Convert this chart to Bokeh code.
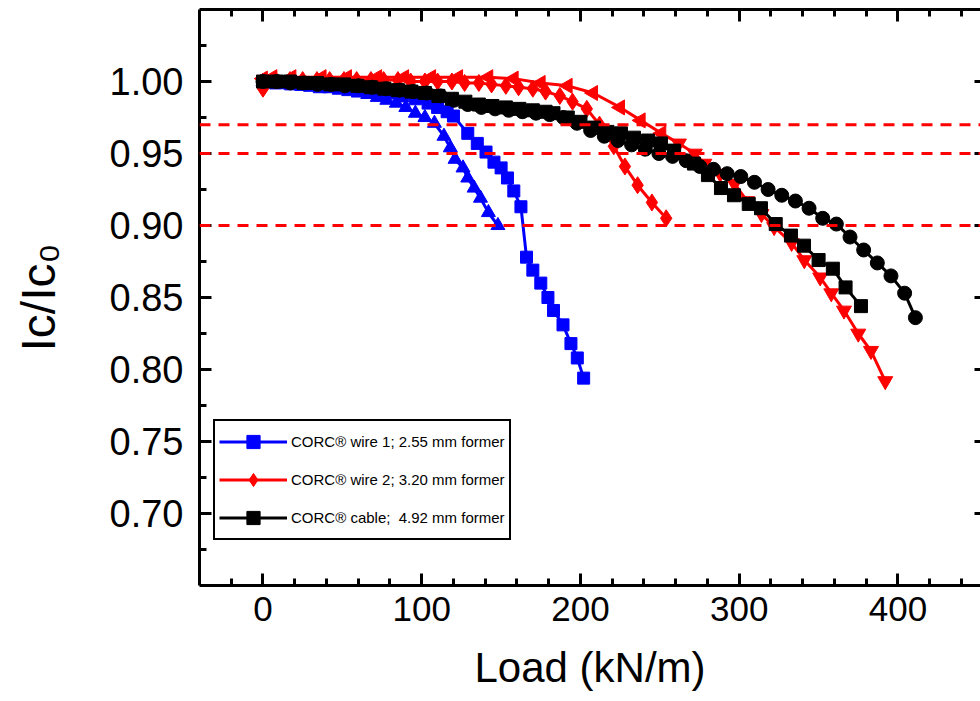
import math
from bokeh.plotting import figure
from bokeh.models import (Range1d, LinearAxis, FixedTicker, PrintfTickFormatter,
                          Legend, LegendItem, Span)
from bokeh.embed import file_html
from bokeh.resources import INLINE

# ---------------- data ----------------
blue_sq_x = [0, 8, 16, 24, 32, 40, 48, 56, 64, 72, 80, 88, 96, 104, 110, 116, 120,
             129, 135, 140.5, 145.5, 150, 154, 158, 162.5, 166, 170, 175, 179.5, 183,
             189, 194, 198, 202]
blue_sq_y = [1.000, 0.999, 0.999, 0.998, 0.998, 0.997, 0.997, 0.996, 0.995, 0.993,
             0.992, 0.990, 0.988, 0.985, 0.982, 0.979, 0.976, 0.964, 0.957, 0.951,
             0.944, 0.940, 0.933, 0.924, 0.913, 0.878, 0.869, 0.860, 0.850, 0.841,
             0.831, 0.818, 0.808, 0.794]

blue_tri_x = [0, 6, 12, 18, 24, 30, 36, 42, 48, 54, 60, 66, 72, 78, 84, 90, 96, 102,
              108, 114, 118, 121, 126, 129, 133, 137, 142, 148]
blue_tri_y = [1.000, 0.999, 0.998, 0.997, 0.997, 0.996, 0.995, 0.995, 0.994, 0.993,
              0.992, 0.991, 0.989, 0.987, 0.985, 0.982, 0.978, 0.975, 0.971, 0.962,
              0.954, 0.946, 0.940, 0.933, 0.926, 0.919, 0.909, 0.900]

red_dia_x = [0, 8, 17, 25, 34, 42, 51, 59, 68, 76, 85, 93, 102, 110, 119, 127, 136,
             144, 153, 161, 170, 178, 187, 195, 204, 212, 221, 228, 236, 245, 254]
red_dia_y = [0.995, 1.001, 1.001, 1.001, 1.001, 1.001, 1.001, 1.001, 1.001, 1.001,
             1.001, 1.000, 1.000, 1.000, 1.000, 0.999, 0.999, 0.998, 0.997, 0.996,
             0.995, 0.993, 0.990, 0.986, 0.981, 0.970, 0.955, 0.941, 0.928, 0.916,
             0.905]

red_tri_x = [0, 6, 18, 37, 53, 72, 89, 106, 123, 142, 158, 175, 192, 208, 225, 238,
             251, 262, 272, 278, 288, 297, 305, 314, 322, 333, 341, 351, 358, 366,
             375, 383, 392]
red_tri_y = [1.002, 1.003, 1.003, 1.003, 1.003, 1.003, 1.003, 1.003, 1.003, 1.003,
             1.002, 0.999, 0.997, 0.992, 0.982, 0.973, 0.964, 0.957, 0.950, 0.943,
             0.936, 0.929, 0.917, 0.908, 0.899, 0.888, 0.876, 0.864, 0.853, 0.841,
             0.825, 0.813, 0.792]

black_ci_x = [0, 8.6, 17.2, 25.8, 34.4, 43, 51.6, 60.2, 68.8, 77.4, 86, 94.6, 103.2,
              111.8, 120.4, 129, 137.6, 146.2, 154.8, 163.4, 172, 180.6, 189.2, 197.8,
              206.4, 215, 223.6, 232.2, 240.8, 249.4, 258, 266.6, 275.2, 283.8, 292.4,
              301, 309.6, 318.2, 326.8, 335.4, 344, 352.6, 361.2, 369.8, 378.4, 387,
              395.6, 404.2, 411]
black_ci_y = [1.000, 1.000, 0.999, 0.999, 0.998, 0.998, 0.997, 0.997, 0.996, 0.995,
              0.994, 0.993, 0.992, 0.990, 0.987, 0.984, 0.982, 0.981, 0.980, 0.979,
              0.978, 0.977, 0.975, 0.971, 0.966, 0.962, 0.959, 0.956, 0.953, 0.950,
              0.948, 0.945, 0.941, 0.939, 0.936, 0.934, 0.930, 0.925, 0.921, 0.917,
              0.912, 0.905, 0.901, 0.892, 0.883, 0.874, 0.865, 0.853, 0.836]

black_sq_x = [0, 8.5, 17, 25.5, 34, 42.5, 51, 59.5, 68, 76.5, 85, 93.5, 102, 110.5,
              119, 127.5, 136, 144.5, 153, 161.5, 170, 178, 183, 192, 200, 208.5, 217,
              225.5, 233.7, 242.5, 250.7, 259, 271.5, 280.3, 288.5, 296.7, 306, 313.7,
              323, 332.6, 340.8, 350, 359, 367, 376.7]
black_sq_y = [1.000, 1.000, 1.000, 0.999, 0.999, 0.998, 0.998, 0.997, 0.996, 0.995,
              0.994, 0.993, 0.992, 0.990, 0.988, 0.986, 0.984, 0.983, 0.982, 0.981,
              0.980, 0.979, 0.978, 0.975, 0.972, 0.968, 0.965, 0.964, 0.961, 0.959,
              0.957, 0.952, 0.943, 0.935, 0.926, 0.921, 0.915, 0.912, 0.901, 0.893,
              0.886, 0.876, 0.870, 0.857, 0.844]

criteria_levels = [0.97, 0.95, 0.90]

x_major = [0, 100, 200, 300, 400]
x_minor = [-20, 20, 40, 60, 80, 120, 140, 160, 180, 220, 240, 260, 280, 320, 340,
           360, 380, 420, 440]
y_major = [0.70, 0.75, 0.80, 0.85, 0.90, 0.95, 1.00]
y_minor = [0.675, 0.725, 0.775, 0.825, 0.875, 0.925, 0.975, 1.025]

legend_labels = ["CORC\u00ae wire 1; 2.55 mm former",
                 "CORC\u00ae wire 2; 3.20 mm former",
                 "CORC\u00ae cable;  4.92 mm former"]
x_title = "Load (kN/m)"
y_title = "Ic/Ic\u2080"

BLUE = "#0000ff"
RED = "#ff0000"
BLACK = "#000000"
FONT = "'Liberation Sans', Arial, sans-serif"

# ---------------- figure ----------------
p = figure(width=980, height=700, output_backend="svg", toolbar_location=None,
           x_range=Range1d(-40, 452), y_range=Range1d(0.65, 1.05),
           min_border_left=199, min_border_right=0, min_border_top=9,
           min_border_bottom=115)
p.grid.visible = False
p.outline_line_color = None
p.background_fill_color = "white"
p.border_fill_color = "white"

bottom_ax = p.below[0]
left_ax = p.left[0]
bottom_ax.ticker = FixedTicker(ticks=x_major, minor_ticks=x_minor)
left_ax.ticker = FixedTicker(ticks=y_major, minor_ticks=y_minor)
left_ax.formatter = PrintfTickFormatter(format="%.2f")

# top frame line with inward ticks (tick marks only)
top_minor_ax = LinearAxis(ticker=FixedTicker(ticks=[], minor_ticks=x_minor))
top_major_ax = LinearAxis(ticker=FixedTicker(ticks=[], minor_ticks=x_major))
right_ax = LinearAxis(ticker=FixedTicker(ticks=[], minor_ticks=y_major))
p.add_layout(top_minor_ax, "above")
p.add_layout(top_major_ax, "above")
p.add_layout(right_ax, "right")

for ax in [bottom_ax, left_ax, top_minor_ax, top_major_ax, right_ax]:
    ax.axis_line_width = 3
    ax.axis_line_color = BLACK
    ax.major_tick_line_width = 3
    ax.minor_tick_line_width = 3
    ax.major_tick_in = 12
    ax.major_tick_out = 0
    ax.minor_tick_in = 7
    ax.minor_tick_out = 0

top_major_ax.minor_tick_in = 12
top_major_ax.axis_line_color = None
right_ax.axis_line_color = None
right_ax.minor_tick_in = 6
for ax in [top_minor_ax, top_major_ax, right_ax]:
    ax.major_label_standoff = 0

bottom_ax.major_label_text_font = FONT
bottom_ax.major_label_text_font_size = "35px"
bottom_ax.major_label_text_color = BLACK
bottom_ax.major_label_standoff = 11
bottom_ax.axis_label = x_title
bottom_ax.axis_label_text_font = FONT
bottom_ax.axis_label_text_font_size = "42px"
bottom_ax.axis_label_text_font_style = "normal"
bottom_ax.axis_label_text_color = BLACK
bottom_ax.axis_label_standoff = 20

left_ax.major_label_text_font = FONT
left_ax.major_label_text_font_size = "38px"
left_ax.major_label_text_color = BLACK
left_ax.major_label_standoff = 16
left_ax.axis_label = y_title
left_ax.axis_label_text_font = FONT
left_ax.axis_label_text_font_size = "48px"
left_ax.axis_label_text_font_style = "normal"
left_ax.axis_label_text_color = BLACK
left_ax.axis_label_standoff = 42

for lvl in criteria_levels:
    p.add_layout(Span(location=lvl, dimension="width", line_color=RED,
                      line_width=3, line_dash="11 8"))

# ---------------- series ----------------
p.line(blue_tri_x, blue_tri_y, line_color=BLUE, line_width=3)
p.scatter(blue_tri_x, blue_tri_y, marker="triangle", size=14, color=BLUE)

l1 = p.line(blue_sq_x, blue_sq_y, line_color=BLUE, line_width=3)
m1 = p.scatter(blue_sq_x, blue_sq_y, marker="square", size=12, color=BLUE)

l2 = p.line(red_dia_x, red_dia_y, line_color=RED, line_width=3)
m2 = p.scatter(red_dia_x, red_dia_y, marker="diamond", size=17, color=RED)

p.line(red_tri_x, red_tri_y, line_color=RED, line_width=3)
split = 17
p.scatter(red_tri_x[:split], red_tri_y[:split], marker="triangle", size=15,
          angle=math.pi / 2, color=RED)
p.scatter(red_tri_x[split:], red_tri_y[split:], marker="inverted_triangle",
          size=15, color=RED)

p.line(black_ci_x, black_ci_y, line_color=BLACK, line_width=3)
p.scatter(black_ci_x, black_ci_y, marker="circle", size=14, color=BLACK)

l3 = p.line(black_sq_x, black_sq_y, line_color=BLACK, line_width=3)
m3 = p.scatter(black_sq_x, black_sq_y, marker="square", size=13, color=BLACK)

legend = Legend(items=[LegendItem(label=legend_labels[0], renderers=[l1, m1]),
                       LegendItem(label=legend_labels[1], renderers=[l2, m2]),
                       LegendItem(label=legend_labels[2], renderers=[l3, m3])],
                location=(14, 45))
legend.border_line_color = BLACK
legend.border_line_alpha = 1
legend.border_line_width = 2
legend.background_fill_color = "white"
legend.background_fill_alpha = 1
legend.padding = 4
legend.spacing = 5
legend.margin = 0
legend.glyph_width = 68
legend.glyph_height = 33
legend.label_height = 33
legend.label_standoff = 4
legend.label_text_font = FONT
legend.label_text_font_size = "15px"
legend.label_text_color = BLACK
legend.label_text_baseline = "middle"
p.add_layout(legend, "center")

open("out.html", "w").write(file_html(p, INLINE))
